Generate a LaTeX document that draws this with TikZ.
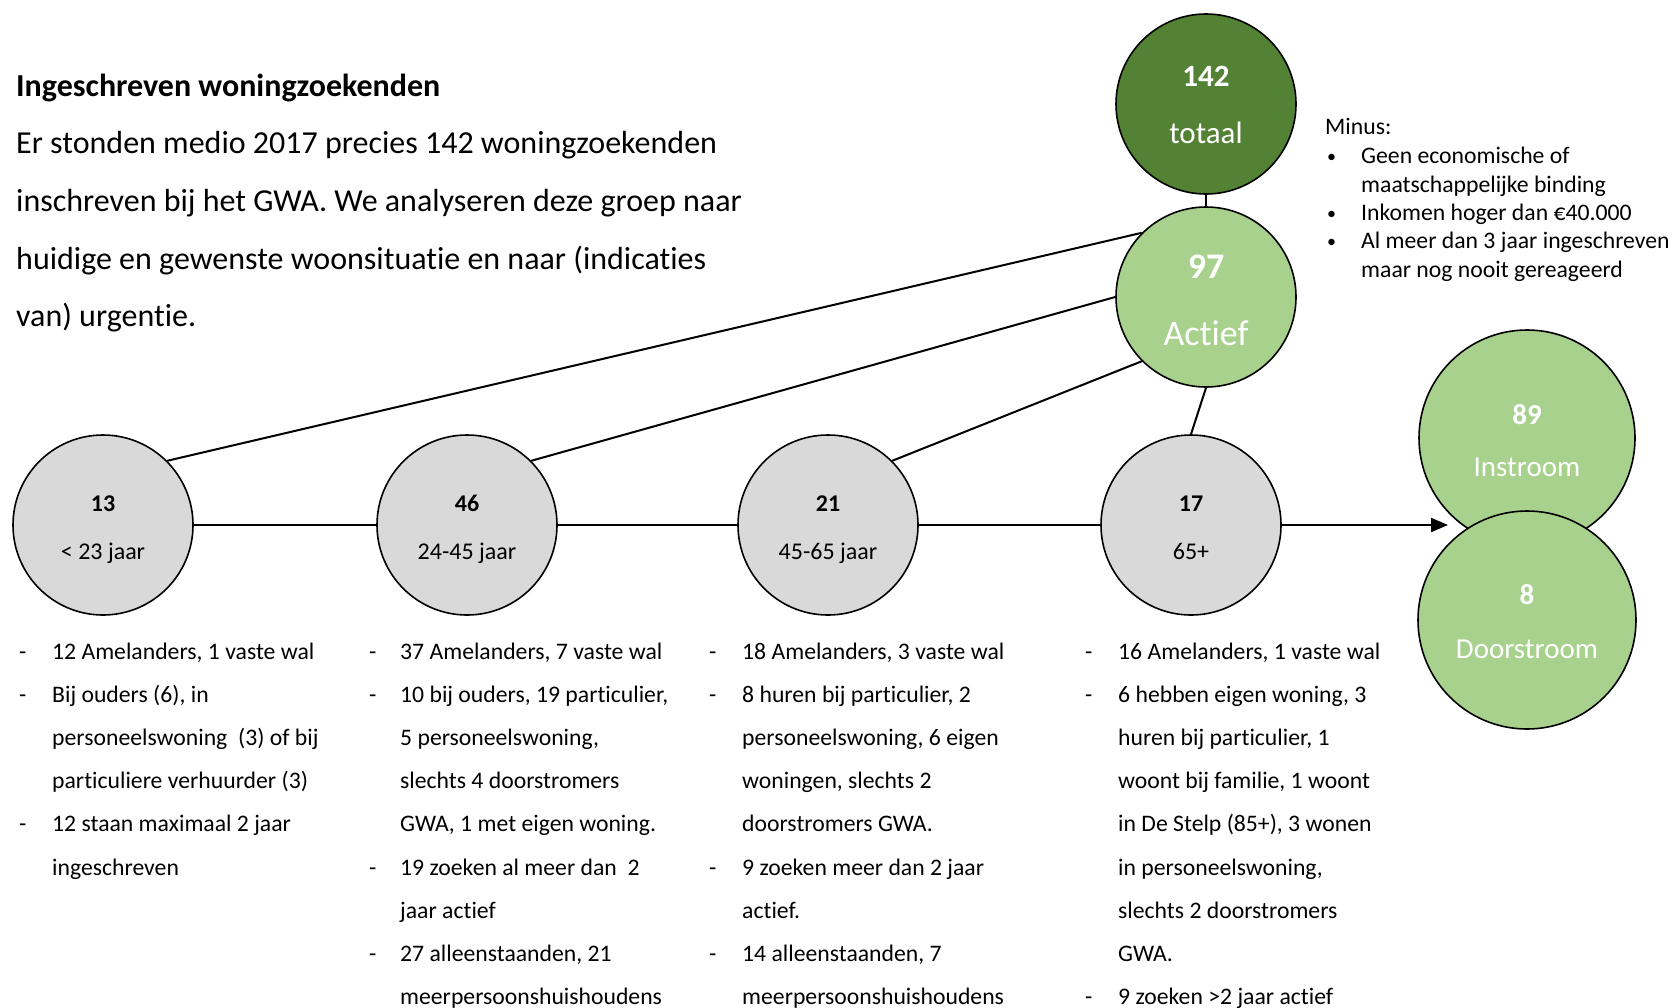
\documentclass[tikz,border=0pt]{standalone}
\usepackage{fontspec}
\setmainfont[Ligatures={NoCommon}]{Carlito}
\usetikzlibrary{arrows.meta}

\definecolor{donkergroen}{HTML}{548235}
\definecolor{lichtgroen}{HTML}{A9D18E}
\definecolor{lichtgrijs}{HTML}{D9D9D9}

\begin{document}
\begin{tikzpicture}[x=1pt, y=-1pt,
  bol/.style={circle, draw=black, line width=1.6pt, inner sep=0pt, minimum size=180pt},
  grijsbol/.style={bol, fill=lichtgrijs},
  lijn/.style={draw=black, line width=2pt},
  tekst/.style={anchor=base west, inner sep=0pt, font=\fontsize{32}{38}\selectfont},
  lijst/.style={anchor=base west, inner sep=0pt, font=\fontsize{23.7}{29}\selectfont},
  minus/.style={anchor=base west, inner sep=0pt, font=\fontsize{23.7}{29}\selectfont},
  bullet/.style={minus, font=\fontsize{18}{22}\selectfont},
  bolgetal/.style={anchor=base, inner sep=0pt, font=\bfseries\fontsize{24}{29}\selectfont},
  bollabel/.style={anchor=base, inner sep=0pt, font=\fontsize{24}{29}\selectfont}]
\useasboundingbox (0,0) rectangle (1676,1007);

% titel en inleiding
\node[tekst, font=\bfseries\fontsize{32}{38}\selectfont] (kop) at (16,96) {Ingeschreven woningzoekenden};
\node[tekst] (regel1) at (16,153) {Er stonden medio 2017 precies 142 woningzoekenden};
\node[tekst] (regel2) at (16,211) {inschreven bij het GWA. We analyseren deze groep naar};
\node[tekst] (regel3) at (16,269) {huidige en gewenste woonsituatie en naar (indicaties};
\node[tekst] (regel4) at (16,326) {van) urgentie.};

% totaal en actief
\node[bol, fill=donkergroen] (totaal) at (1206,104) {};
\node[bolgetal, text=white, font=\bfseries\fontsize{31}{37}\selectfont] (totaalgetal) at (1206,86) {142};
\node[bollabel, text=white, font=\fontsize{31}{37}\selectfont] (totaallabel) at (1206,143) {totaal};
\node[bol, fill=lichtgroen] (actief) at (1206,297) {};
\node[bolgetal, text=white, font=\bfseries\fontsize{36}{43}\selectfont] (actiefgetal) at (1206,278) {97};
\node[bollabel, text=white, font=\fontsize{36}{43}\selectfont] (actieflabel) at (1206,345) {Actief};
\draw[lijn] (totaal) -- (actief);

% minus
\node[minus] (minuskop) at (1325,134) {Minus:};
\node[bullet] (bul1) at (1327,162) {•};
\node[minus] (min1a) at (1361,163) {Geen economische of};
\node[minus] (min1b) at (1361,192) {maatschappelijke binding};
\node[bullet] (bul2) at (1327,219) {•};
\node[minus] (min2) at (1361,220) {Inkomen hoger dan €40.000};
\node[bullet] (bul3) at (1327,247) {•};
\node[minus] (min3a) at (1361,248) {Al meer dan 3 jaar ingeschreven};
\node[minus] (min3b) at (1361,277) {maar nog nooit gereageerd};

% leeftijdsgroepen
\node[grijsbol] (jong) at (103,525) {};
\node[bolgetal] (jonggetal) at (103,511) {13};
\node[bollabel] (jonglabel) at (103,559) {< 23 jaar};
\node[grijsbol] (midden) at (467,525) {};
\node[bolgetal] (middengetal) at (467,511) {46};
\node[bollabel] (middenlabel) at (467,559) {24-45 jaar};
\node[grijsbol] (ouder) at (828,525) {};
\node[bolgetal] (oudergetal) at (828,511) {21};
\node[bollabel] (ouderlabel) at (828,559) {45-65 jaar};
\node[grijsbol] (senior) at (1191,525) {};
\node[bolgetal] (seniorgetal) at (1191,511) {17};
\node[bollabel] (seniorlabel) at (1191,559) {65+};

\draw[lijn] (actief.135) -- (jong.45);
\draw[lijn] (actief.180) -- (midden.45);
\draw[lijn] (actief.225) -- (ouder.45);
\draw[lijn] (actief.south) -- (senior.north);
\draw[lijn] (jong) -- (midden);
\draw[lijn] (midden) -- (ouder);
\draw[lijn] (ouder) -- (senior);

% instroom en doorstroom
\node[bol, fill=lichtgroen, minimum size=216pt] (instroom) at (1527,438) {};
\node[bolgetal, text=white, font=\bfseries\fontsize{29}{35}\selectfont] (instroomgetal) at (1527,424) {89};
\node[bollabel, text=white, font=\fontsize{29}{35}\selectfont] (instroomlabel) at (1527,476) {Instroom};
\node[bol, fill=lichtgroen, minimum size=218pt] (doorstroom) at (1527,620) {};
\node[bolgetal, text=white, font=\bfseries\fontsize{29}{35}\selectfont] (doorstroomgetal) at (1527,604) {8};
\node[bollabel, text=white, font=\fontsize{29}{35}\selectfont] (doorstroomlabel) at (1527,658) {Doorstroom};
\coordinate (pijlpunt) at (1448,525);
\draw[lijn, -{Triangle[length=17pt, width=14pt]}] (senior) -- (pijlpunt);

% lijst < 23 jaar
\node[lijst] (s1a) at (19,659) {-};
\node[lijst] (l1a) at (52,659) {12 Amelanders, 1 vaste wal};
\node[lijst] (s1b) at (19,702) {-};
\node[lijst] (l1b) at (52,702) {Bij ouders (6), in};
\node[lijst] (l1c) at (52,745) {personeelswoning~ (3) of bij};
\node[lijst] (l1d) at (52,788) {particuliere verhuurder (3)};
\node[lijst] (s1c) at (19,831) {-};
\node[lijst] (l1e) at (52,831) {12 staan maximaal 2 jaar};
\node[lijst] (l1f) at (52,875) {ingeschreven};

% lijst 24-45 jaar
\node[lijst] (s2a) at (369,659) {-};
\node[lijst] (l2a) at (400,659) {37 Amelanders, 7 vaste wal};
\node[lijst] (s2b) at (369,702) {-};
\node[lijst] (l2b) at (400,702) {10 bij ouders, 19 particulier,};
\node[lijst] (l2c) at (400,745) {5 personeelswoning,};
\node[lijst] (l2d) at (400,788) {slechts 4 doorstromers};
\node[lijst] (l2e) at (400,831) {GWA, 1 met eigen woning.};
\node[lijst] (s2c) at (369,875) {-};
\node[lijst] (l2f) at (400,875) {19 zoeken al meer dan~ 2};
\node[lijst] (l2g) at (400,918) {jaar actief};
\node[lijst] (s2d) at (369,961) {-};
\node[lijst] (l2h) at (400,961) {27 alleenstaanden, 21};
\node[lijst] (l2i) at (400,1004) {meerpersoonshuishoudens};

% lijst 45-65 jaar
\node[lijst] (s3a) at (709,659) {-};
\node[lijst] (l3a) at (742,659) {18 Amelanders, 3 vaste wal};
\node[lijst] (s3b) at (709,702) {-};
\node[lijst] (l3b) at (742,702) {8 huren bij particulier, 2};
\node[lijst] (l3c) at (742,745) {personeelswoning, 6 eigen};
\node[lijst] (l3d) at (742,788) {woningen, slechts 2};
\node[lijst] (l3e) at (742,831) {doorstromers GWA.};
\node[lijst] (s3c) at (709,875) {-};
\node[lijst] (l3f) at (742,875) {9 zoeken meer dan 2 jaar};
\node[lijst] (l3g) at (742,918) {actief.};
\node[lijst] (s3d) at (709,961) {-};
\node[lijst] (l3h) at (742,961) {14 alleenstaanden, 7};
\node[lijst] (l3i) at (742,1004) {meerpersoonshuishoudens};

% lijst 65+
\node[lijst] (s4a) at (1085,659) {-};
\node[lijst] (l4a) at (1118,659) {16 Amelanders, 1 vaste wal};
\node[lijst] (s4b) at (1085,702) {-};
\node[lijst] (l4b) at (1118,702) {6 hebben eigen woning, 3};
\node[lijst] (l4c) at (1118,745) {huren bij particulier, 1};
\node[lijst] (l4d) at (1118,788) {woont bij familie, 1 woont};
\node[lijst] (l4e) at (1118,831) {in De Stelp (85+), 3 wonen};
\node[lijst] (l4f) at (1118,875) {in personeelswoning,};
\node[lijst] (l4g) at (1118,918) {slechts 2 doorstromers};
\node[lijst] (l4h) at (1118,961) {GWA.};
\node[lijst] (s4c) at (1085,1004) {-};
\node[lijst] (l4i) at (1118,1004) {9 zoeken >2 jaar actief};
\end{tikzpicture}
\end{document}
